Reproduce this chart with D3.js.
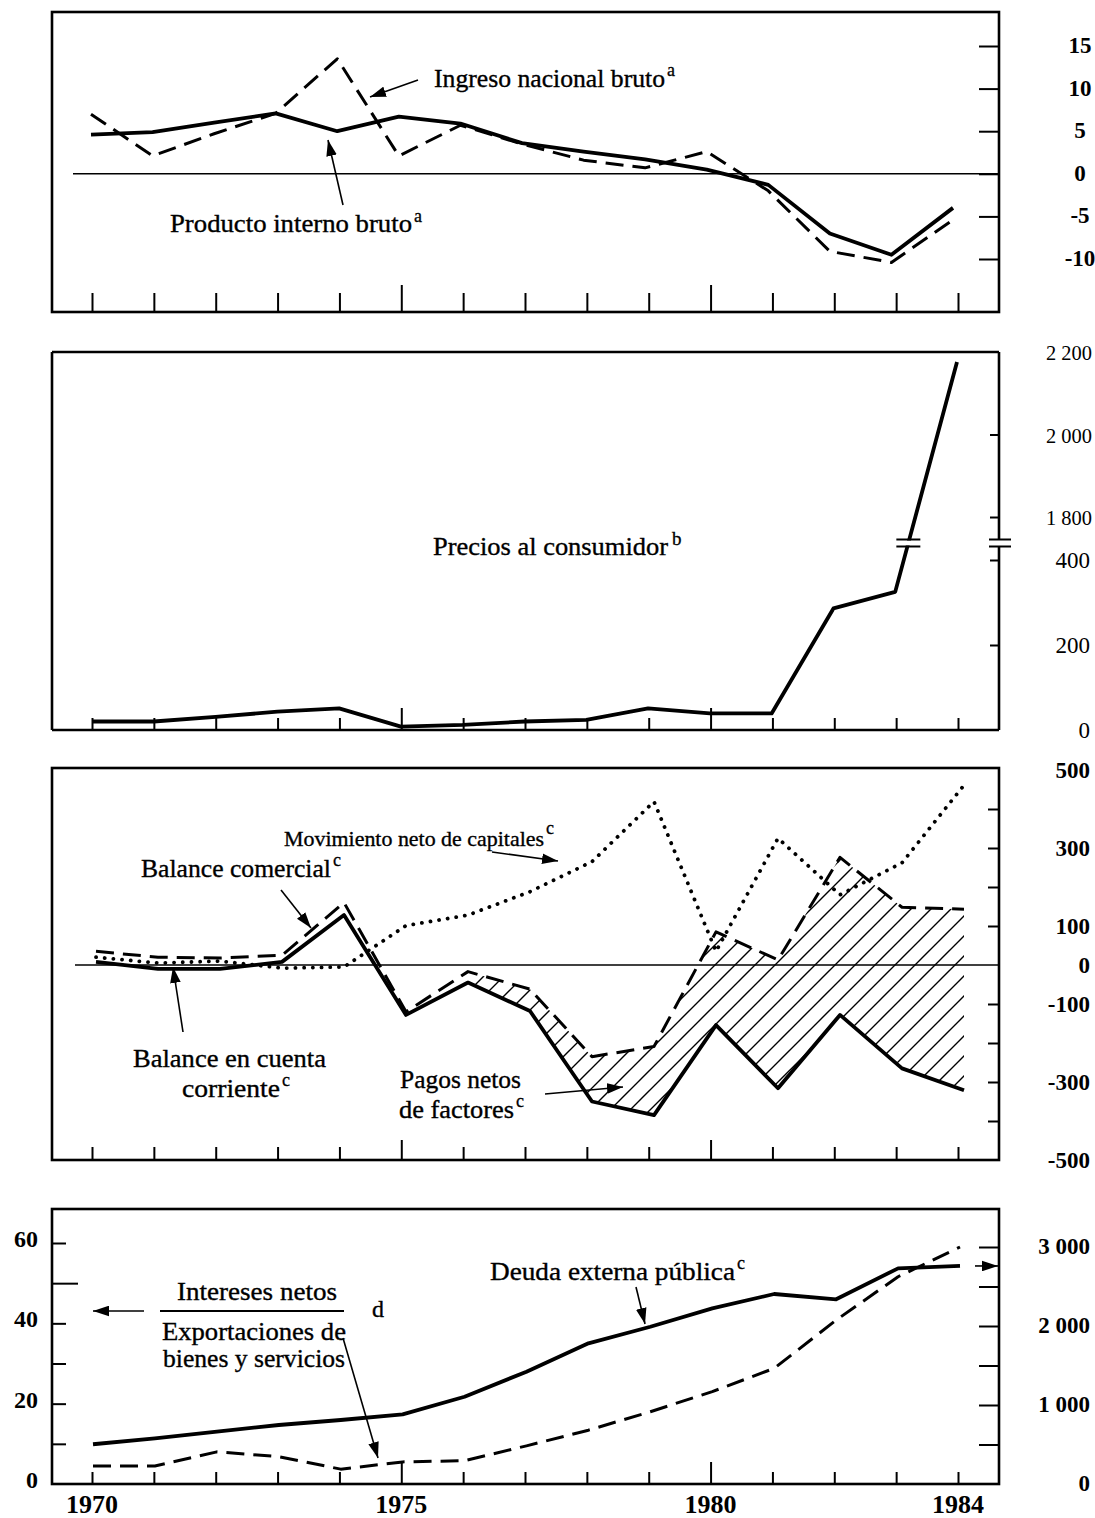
<!DOCTYPE html>
<html><head><meta charset="utf-8">
<script src="https://cdn.jsdelivr.net/npm/d3@7"></script>
<style>
body{margin:0;background:#fff}
svg text{font-family:"Liberation Serif","Times New Roman",serif;fill:#000}
</style></head><body>
<svg id="chart" width="1095" height="1518"></svg>
<script>
// ---------- DATA ----------
const years = [1970,1971,1972,1973,1974,1975,1976,1977,1978,1979,1980,1981,1982,1983,1984];
// Panel 1 (tasas de variación)
const pib      = [4.6, 4.9, 6.0, 7.1, 5.0, 6.7, 5.9, 3.6, 2.6, 1.7, 0.5, -1.3, -7.0, -9.5, -4.0];
const ingreso  = [7.0, 2.1, 4.7, 7.1, 13.5, 2.1, 5.7, 3.5, 1.6, 0.7, 2.6, -2.0, -9.1, -10.4, -5.4];
// Panel 2 (precios al consumidor)
const precios  = [20, 20, 31, 43, 51, 8, 12, 20, 24, 51, 39, 39, 286, 325, 2176];
// Panel 3 (millones de dólares)
const comercial = [35, 20, 18, 25, 160, -120, -17, -62, -235, -209, 85, 13, 276, 148, 143];
const cuenta    = [8, -10, -10, 8, 128, -128, -45, -118, -350, -385, -154, -316, -128, -265, -321];
const capitales = [20, 5, 10, -8, -5, 101, 128, 188, 265, 419, 35, 325, 180, 262, 461];
// Panel 4
const deuda     = [503, 578, 662, 747, 810, 882, 1105, 1422, 1781, 1991, 2224, 2405, 2338, 2730, 2760];
const intereses = [4.5, 4.5, 8.0, 6.8, 3.7, 5.5, 5.8, 9.5, 13.4, 18.0, 23.0, 28.8, 40.8, 51.6, 59.0];
// Tick values / labels
const p1Ticks = [15, 10, 5, 0, -5, -10];
const p1Labels = ["15", "10", "5", "0", "-5", "-10"];
const p2TickVals = [0, 200, 400, 1800, 2000, 2200];
const p2Labels = ["0", "200", "400", "1 800", "2 000", "2 200"];
const p3TickVals = [-400, -300, -200, -100, 100, 200, 300, 400];
const p3LabelVals = [500, 300, 100, 0, -100, -300, -500];
const p4LeftTicks = [10, 20, 30, 40, 50, 60];
const p4LeftLabelVals = [0, 20, 40, 60];
const p4RightTicks = [500, 1000, 1500, 2000, 2500, 3000];
const p4RightLabelVals = [0, 1000, 2000, 3000];
const p4RightLabels = ["0", "1 000", "2 000", "3 000"];
const yearLabels = [1970, 1975, 1980, 1984];
const majorYears = [1975, 1980];

// ---------- SETUP ----------
const svg = d3.select('#chart');
svg.append('rect').attr('width',1095).attr('height',1518).attr('fill','#fff');
const defs = svg.append('defs');
defs.append('marker').attr('id','arr').attr('viewBox','0 0 12 8').attr('refX',12).attr('refY',4)
  .attr('markerUnits','userSpaceOnUse').attr('markerWidth',16).attr('markerHeight',11).attr('orient','auto')
  .append('path').attr('d','M0,0 L12,4 L0,8 Z').attr('fill','#000');
const pat = defs.append('pattern').attr('id','hatch').attr('patternUnits','userSpaceOnUse')
  .attr('width',20).attr('height',20);
pat.append('path').attr('d','M-5,5 L5,-5 M0,20 L20,0 M15,25 L25,15')
  .attr('stroke','#000').attr('stroke-width',1.4);

const X0 = 52, X1 = 999;
const P1 = {y0:12, y1:312}, P2 = {y0:352, y1:730}, P3 = {y0:768, y1:1160}, P4 = {y0:1209, y1:1484};
const xTick = d3.scaleLinear().domain([1970,1984]).range([92,958]);

function frame(P){
  svg.append('rect').attr('x',X0).attr('y',P.y0).attr('width',X1-X0).attr('height',P.y1-P.y0)
    .attr('fill','none').attr('stroke','#000').attr('stroke-width',2.6);
}
function bottomTicks(P, minor, major){
  const g = svg.append('g').attr('transform',`translate(0,${P.y1})`)
    .call(d3.axisTop(xTick).tickValues(years).tickSize(minor).tickFormat(''));
  g.select('.domain').remove();
  g.selectAll('.tick line').attr('stroke','#000').attr('stroke-width',2)
    .attr('y2', d => majorYears.includes(d) ? -major : -minor);
}
function rightTicks(scale, vals, len){
  const g = svg.append('g').attr('transform',`translate(${X1},0)`)
    .call(d3.axisLeft(scale).tickValues(vals).tickSize(len).tickFormat(''));
  g.select('.domain').remove();
  g.selectAll('.tick line').attr('stroke','#000').attr('stroke-width',2);
}
function leftTicks(scale, vals, len, longVal, longLen){
  const g = svg.append('g').attr('transform',`translate(${X0},0)`)
    .call(d3.axisRight(scale).tickValues(vals).tickSize(len).tickFormat(''));
  g.select('.domain').remove();
  g.selectAll('.tick line').attr('stroke','#000').attr('stroke-width',2)
    .attr('x2', d => d === longVal ? longLen : len);
}
function drawLine(xs, ys, data, style){
  const line = d3.line().x((d,i)=>xs(years[i])).y(d=>ys(d));
  const p = svg.append('path').datum(data).attr('d',line).attr('fill','none').attr('stroke','#000')
    .attr('stroke-linejoin','round');
  if(style==='solid') p.attr('stroke-width',3.8);
  if(style==='dashed') p.attr('stroke-width',3).attr('stroke-dasharray','18 9');
  if(style==='dotted') p.attr('stroke-width',3.8).attr('stroke-linecap','round').attr('stroke-dasharray','0.1 8.6');
  return p;
}
function txt(x,y,s,o={}){
  const t = svg.append('text').attr('x',x).attr('y',y).text(s)
    .attr('font-size',o.size||24).attr('text-anchor',o.anchor||'start')
    .attr('font-weight',o.weight||'normal');
  if(o.len) t.attr('textLength',o.len).attr('lengthAdjust','spacingAndGlyphs');
  if(o.stroke) t.attr('stroke','#000').attr('stroke-width',o.stroke);
  return t;
}
function label(x,y,s,len,sup,supDy,size){
  txt(x,y,s,{len:len, size:size||25, stroke:0.35});
  if(sup) txt(x+len+2, y-(supDy||10), sup, {size:18, stroke:0.3});
}
function arrow(x1,y1,x2,y2){
  svg.append('line').attr('x1',x1).attr('y1',y1).attr('x2',x2).attr('y2',y2)
    .attr('stroke','#000').attr('stroke-width',1.6).attr('marker-end','url(#arr)');
}

// ---------- PANEL 1 ----------
const x1s = d3.scaleLinear().domain([1970,1984]).range([91,953]);
const y1s = d3.scaleLinear().domain([-10,15]).range([259,46]);
frame(P1);
bottomTicks(P1, 19, 27);
rightTicks(y1s, p1Ticks, 20);
svg.append('line').attr('x1',73).attr('x2',X1).attr('y1',y1s(0)).attr('y2',y1s(0)).attr('stroke','#000').attr('stroke-width',1.5);
drawLine(x1s, y1s, ingreso, 'dashed');
drawLine(x1s, y1s, pib, 'solid');
p1Ticks.forEach((v,i)=>txt(1080, y1s(v)+7, p1Labels[i], {anchor:'middle', weight:'bold', size:23}));
label(434, 87, 'Ingreso nacional bruto', 231, 'a', 11);
arrow(418, 80, 370, 97);
label(170, 232, 'Producto interno bruto', 242, 'a', 10);
arrow(343, 205, 328, 140);

// ---------- PANEL 2 ----------
const x2s = d3.scaleLinear().domain([1970,1984]).range([92,957]);
const y2s = d3.scaleLinear().domain([0, 440, 1737, 2200]).range([730, 543, 543, 352]);
const brkY = y2s(440);
[[X0,P2.y0,X1,P2.y0],[X0,P2.y1,X1,P2.y1],[X0,P2.y0,X0,P2.y1],[X1,P2.y0,X1,brkY-3],[X1,brkY+3,X1,P2.y1]]
  .forEach(s=>svg.append('line').attr('x1',s[0]).attr('y1',s[1]).attr('x2',s[2]).attr('y2',s[3])
    .attr('stroke','#000').attr('stroke-width',2.6));
bottomTicks(P2, 12, 22);
rightTicks(y2s, [200, 400, 1800, 2000], 9);
drawLine(x2s, y2s, precios, 'solid');
const pa = [x2s(years[13]), y2s(precios[13])], pb = [x2s(years[14]), y2s(precios[14])];
const tb = (pa[1]-brkY)/(pa[1]-pb[1]);
const cx = pa[0] + tb*(pb[0]-pa[0]);
svg.append('rect').attr('x',cx-6).attr('y',brkY-2.5).attr('width',12).attr('height',5).attr('fill','#fff');
[-3.5,3.5].forEach(d=>{
  svg.append('line').attr('x1',cx-12).attr('x2',cx+12).attr('y1',brkY+d).attr('y2',brkY+d).attr('stroke','#000').attr('stroke-width',2);
  svg.append('line').attr('x1',X1-10).attr('x2',X1+12).attr('y1',brkY+d).attr('y2',brkY+d).attr('stroke','#000').attr('stroke-width',2);
});
p2TickVals.forEach((v,i)=>{
  if(v>=1000) txt(1092, y2s(v)+8, p2Labels[i], {size:22, anchor:'end', len:46});
  else txt(1090, y2s(v)+8, p2Labels[i], {size:23, anchor:'end'});
});
label(433, 555, 'Precios al consumidor', 235, null);
txt(672, 545, 'b', {size:19, stroke:0.3});

// ---------- PANEL 3 ----------
const x3s = d3.scaleLinear().domain([1970,1984]).range([96,964]);
const y3s = d3.scaleLinear().domain([-500,500]).range([1160,770]);
frame(P3);
bottomTicks(P3, 13, 20);
rightTicks(y3s, p3TickVals, 11);
const hatchData = years.map((yr,i)=>({yr, a:cuenta[i], b:comercial[i]})).filter(d=>d.yr>=1976);
svg.append('path').datum(hatchData)
  .attr('d', d3.area().x(d=>x3s(d.yr)).y0(d=>y3s(d.a)).y1(d=>y3s(d.b)))
  .attr('fill','url(#hatch)').attr('stroke','none');
svg.append('line').attr('x1',75).attr('x2',X1).attr('y1',y3s(0)).attr('y2',y3s(0)).attr('stroke','#000').attr('stroke-width',1.5);
drawLine(x3s, y3s, capitales, 'dotted');
drawLine(x3s, y3s, comercial, 'dashed');
drawLine(x3s, y3s, cuenta, 'solid');
p3LabelVals.forEach(v=>txt(1090, y3s(v)+8, String(v), {anchor:'end', weight:'bold', size:23}));
label(284, 846, 'Movimiento neto de capitales', 260, 'c', 12, 22);
arrow(492, 852, 558, 861);
label(141, 877, 'Balance comercial', 190, 'c', 11);
arrow(281, 890, 311, 928);
label(133, 1067, 'Balance en cuenta', 193, null);
label(182, 1097, 'corriente', 98, 'c', 11);
arrow(183, 1032, 173, 967);
label(400, 1088, 'Pagos netos', 121, null);
label(399, 1118, 'de factores', 115, 'c', 11);
arrow(545, 1094, 623, 1087);

// ---------- PANEL 4 ----------
const x4s = d3.scaleLinear().domain([1970,1984]).range([93,960]);
const yL = d3.scaleLinear().domain([0,60]).range([1484,1243]);
const yR = d3.scaleLinear().domain([0,3000]).range([1484,1247]);
frame(P4);
bottomTicks(P4, 12, 22);
leftTicks(yL, p4LeftTicks, 14, 50, 26);
rightTicks(yR, p4RightTicks, 20);
drawLine(x4s, yL, intereses, 'dashed');
drawLine(x4s, yR, deuda, 'solid');
p4LeftLabelVals.forEach(v=>txt(38, yL(v)+4, String(v), {anchor:'end', weight:'bold', size:24}));
p4RightLabelVals.forEach((v,i)=>txt(1090, yR(v)+7, p4RightLabels[i], {anchor:'end', weight:'bold', size:23}));
yearLabels.forEach(v=>txt(xTick(v), 1513, String(v), {anchor:'middle', weight:'bold', size:26}));
label(177, 1300, 'Intereses netos', 160, null);
svg.append('line').attr('x1',160).attr('x2',344).attr('y1',1311).attr('y2',1311).attr('stroke','#000').attr('stroke-width',1.8);
txt(372, 1317, 'd', {size:24, stroke:0.35});
arrow(144, 1311, 93, 1311);
label(162, 1340, 'Exportaciones de', 184, null);
label(163, 1367, 'bienes y servicios', 182, null);
arrow(343, 1338, 378, 1458);
label(490, 1280, 'Deuda externa pública', 245, 'c', 11);
arrow(636, 1287, 645, 1324);
arrow(975, yR(deuda[14]), 998, yR(deuda[14]));
</script>
</body></html>
